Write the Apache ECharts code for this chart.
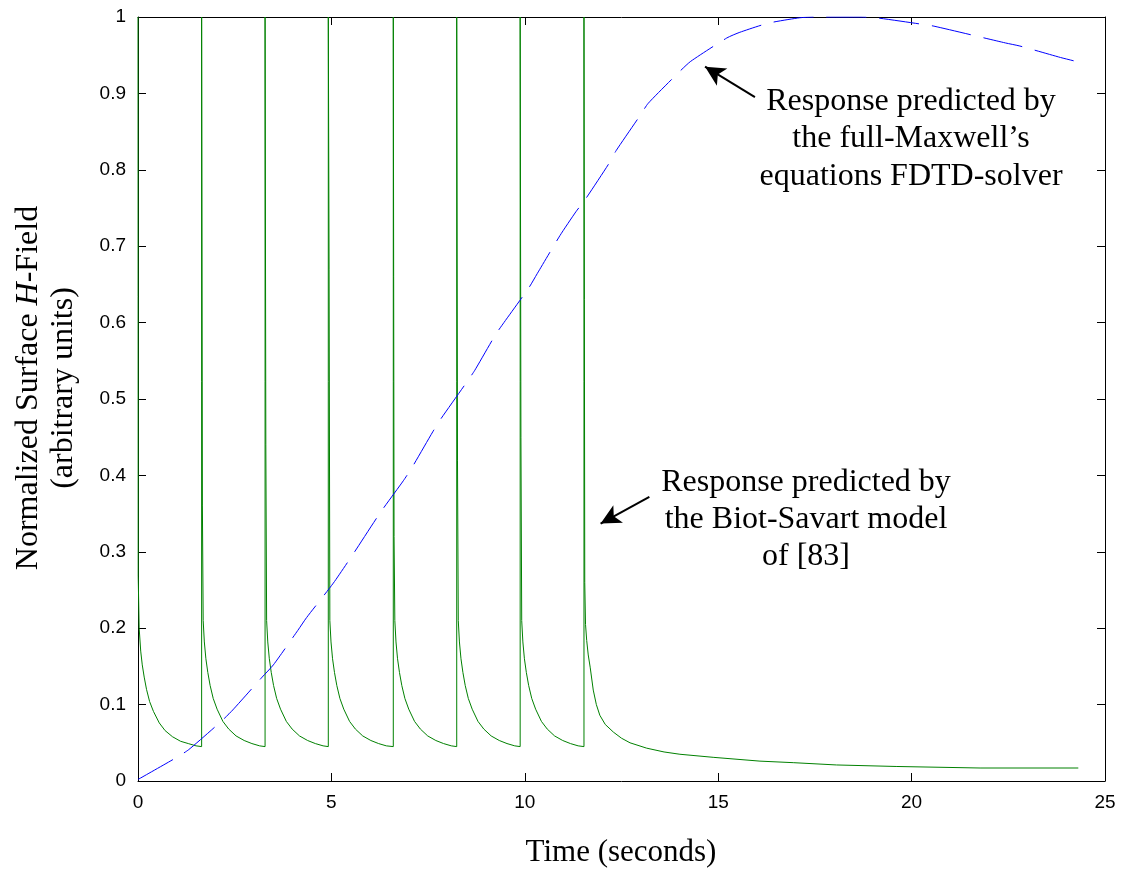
<!DOCTYPE html>
<html>
<head>
<meta charset="utf-8">
<script src="https://cdn.jsdelivr.net/npm/echarts@6/dist/echarts.min.js"></script>
<style>
  html, body { margin: 0; padding: 0; background: #fff; }
  #main { width: 1121px; height: 871px; }
</style>
</head>
<body>
<div id="main"></div>
<script>
// Biot-Savart model response (green), [time s, normalized H]
var biotSavart = [
  [0, 1.0], [0.005, 0.268], [0.03, 0.20], [0.07, 0.17], [0.11, 0.152], [0.16, 0.136], [0.22, 0.12], [0.30, 0.104],
  [0.40, 0.091], [0.55, 0.076], [0.70, 0.066], [0.89, 0.058], [1.10, 0.052], [1.30, 0.049], [1.50, 0.046], [1.645, 0.045],

  [1.645, 1.0], [1.665, 0.36], [1.685, 0.21], [1.715, 0.182], [1.755, 0.160], [1.805, 0.142], [1.865, 0.125], [1.945, 0.108],
  [2.045, 0.094], [2.195, 0.078], [2.345, 0.068], [2.535, 0.059], [2.745, 0.053], [2.945, 0.049], [3.145, 0.046], [3.285, 0.045],

  [3.285, 1.0], [3.305, 0.44], [3.325, 0.21], [3.355, 0.182], [3.395, 0.160], [3.445, 0.142], [3.505, 0.125], [3.585, 0.108],
  [3.685, 0.094], [3.835, 0.078], [3.985, 0.068], [4.175, 0.059], [4.385, 0.053], [4.585, 0.049], [4.785, 0.046], [4.92, 0.045],

  [4.92, 1.0], [4.94, 0.67], [4.96, 0.21], [4.99, 0.182], [5.03, 0.160], [5.08, 0.142], [5.14, 0.125], [5.22, 0.108],
  [5.32, 0.094], [5.47, 0.078], [5.62, 0.068], [5.81, 0.059], [6.02, 0.053], [6.22, 0.049], [6.42, 0.046], [6.60, 0.045],

  [6.60, 1.0], [6.62, 0.32], [6.64, 0.21], [6.67, 0.182], [6.71, 0.160], [6.76, 0.142], [6.82, 0.125], [6.90, 0.108],
  [7.00, 0.094], [7.15, 0.078], [7.30, 0.068], [7.49, 0.059], [7.70, 0.053], [7.90, 0.049], [8.10, 0.046], [8.24, 0.045],

  [8.24, 1.0], [8.26, 0.42], [8.28, 0.21], [8.31, 0.182], [8.35, 0.160], [8.40, 0.142], [8.46, 0.125], [8.54, 0.108],
  [8.64, 0.094], [8.79, 0.078], [8.94, 0.068], [9.13, 0.059], [9.34, 0.053], [9.54, 0.049], [9.74, 0.046], [9.88, 0.045],

  [9.88, 1.0], [9.90, 0.45], [9.92, 0.21], [9.95, 0.182], [9.99, 0.160], [10.04, 0.142], [10.10, 0.125], [10.18, 0.108],
  [10.28, 0.094], [10.43, 0.078], [10.58, 0.068], [10.77, 0.059], [10.98, 0.053], [11.18, 0.049], [11.38, 0.046], [11.53, 0.045],

  [11.53, 1.0], [11.55, 0.26], [11.57, 0.205], [11.60, 0.184], [11.64, 0.165], [11.69, 0.149], [11.77, 0.119], [11.85, 0.100],
  [11.94, 0.086], [12.08, 0.074], [12.29, 0.064], [12.50, 0.056], [12.72, 0.050], [13.15, 0.043], [13.6, 0.038], [14.01, 0.035],
  [14.87, 0.031], [16.08, 0.026], [16.94, 0.024], [18.06, 0.021], [19.6, 0.019], [21.77, 0.017], [24.31, 0.017]
];

// full-Maxwell FDTD response (blue dashed)
var fdtd = [
  [0, 0.002], [0.97, 0.030], [1.31, 0.041], [2.15, 0.078], [2.45, 0.093], [3.21, 0.136], [3.50, 0.152],
  [4.13, 0.197], [4.36, 0.214], [5.05, 0.259], [5.6, 0.300], [6.26, 0.351], [6.86, 0.393], [7.08, 0.410],
  [7.62, 0.457], [7.83, 0.474], [8.47, 0.520], [8.70, 0.537], [9.24, 0.584], [9.46, 0.600], [10.11, 0.646],
  [10.32, 0.664], [10.91, 0.714], [11.32, 0.745], [11.56, 0.761], [12.16, 0.807], [12.36, 0.825], [12.98, 0.871],
  [13.19, 0.887], [13.99, 0.928], [14.29, 0.942], [15.22, 0.9725], [15.56, 0.980], [16.3, 0.992], [17.11, 0.999],
  [17.5, 1.0], [18.66, 1.0], [19.08, 0.999], [20.2, 0.991], [20.58, 0.988], [22.43, 0.966], [22.8, 0.962],
  [23.85, 0.947], [24.24, 0.942], [24.5, 0.938]
];

// annotation arrows: [tail, tip] in data coords
var arrowFdtd = [[15.95, 0.895], [14.66, 0.935]];
var arrowBiot = [[13.22, 0.372], [11.96, 0.337]];

var annoFdtd = ['Response predicted by', 'the full-Maxwell\u2019s', 'equations FDTD-solver'];
var annoBiot = ['Response predicted by', 'the Biot-Savart model', 'of [83]'];

var serif = '"Liberation Serif", "Times New Roman", serif';
var sans = '"Liberation Sans", Arial, sans-serif';

var myChart = echarts.init(document.getElementById('main'));

function boxAxis(pos, isX, showLabel) {
  var ax = {
    type: 'value',
    position: pos,
    splitLine: { show: false },
    axisLine: { show: true, onZero: false, lineStyle: { color: '#000', width: 1 } },
    axisTick: { show: true, inside: true, length: 8, lineStyle: { color: '#000' } },
    axisLabel: { show: showLabel, color: '#000', fontFamily: sans, fontSize: 19, margin: 12 }
  };
  if (isX) { ax.min = 0; ax.max = 25; ax.interval = 5; }
  else { ax.min = 0; ax.max = 1; ax.interval = 0.1; }
  return ax;
}

function arrowLine(a) {
  return [
    { coord: a[0], symbol: 'none' },
    { coord: a[1], symbol: 'arrow', symbolSize: [15, 20] }
  ];
}

var option = {
  backgroundColor: '#fff',
  animation: false,
  grid: { left: 138, right: 16, top: 17, bottom: 90, containLabel: false },
  xAxis: [boxAxis('bottom', true, true), boxAxis('top', true, false)],
  yAxis: [boxAxis('left', false, true), boxAxis('right', false, false)],
  series: [
    {
      name: 'Biot-Savart',
      type: 'line',
      data: biotSavart,
      showSymbol: false,
      lineStyle: { color: '#008000', width: 1 },
      silent: true
    },
    {
      name: 'FDTD',
      type: 'line',
      data: fdtd,
      smooth: 0.2,
      showSymbol: false,
      lineStyle: { color: '#0000ff', width: 1, type: [40, 13] },
      silent: true,
      markLine: {
        silent: true,
        animation: false,
        label: { show: false },
        lineStyle: { color: '#000', width: 2, type: 'solid' },
        data: [arrowLine(arrowFdtd), arrowLine(arrowBiot)]
      }
    }
  ],
  graphic: [
    {
      type: 'text', x: 621, y: 853,
      style: { text: 'Time (seconds)', font: '31px ' + serif, fill: '#000',
               align: 'center', verticalAlign: 'middle', textAlign: 'center', textVerticalAlign: 'middle' }
    },
    {
      type: 'text', x: 46, y: 388, rotation: Math.PI / 2,
      style: {
        text: '{a|Normalized Surface }{i|H}{a|-Field}\n{a|(arbitrary units)}',
        align: 'center', verticalAlign: 'middle', textAlign: 'center', textVerticalAlign: 'middle',
        fill: '#000',
        rich: {
          a: { font: '32px ' + serif, lineHeight: 35, fill: '#000' },
          i: { font: 'italic 32px ' + serif, lineHeight: 35, fill: '#000' }
        }
      }
    },
    {
      type: 'text', x: 911, y: 139,
      style: { text: annoFdtd.join('\n'), font: '32px ' + serif, lineHeight: 37.5, fill: '#000',
               align: 'center', verticalAlign: 'middle', textAlign: 'center', textVerticalAlign: 'middle' }
    },
    {
      type: 'text', x: 806, y: 520,
      style: { text: annoBiot.join('\n'), font: '32px ' + serif, lineHeight: 37, fill: '#000',
               align: 'center', verticalAlign: 'middle', textAlign: 'center', textVerticalAlign: 'middle' }
    }
  ]
};

myChart.setOption(option);
</script>
</body>
</html>
